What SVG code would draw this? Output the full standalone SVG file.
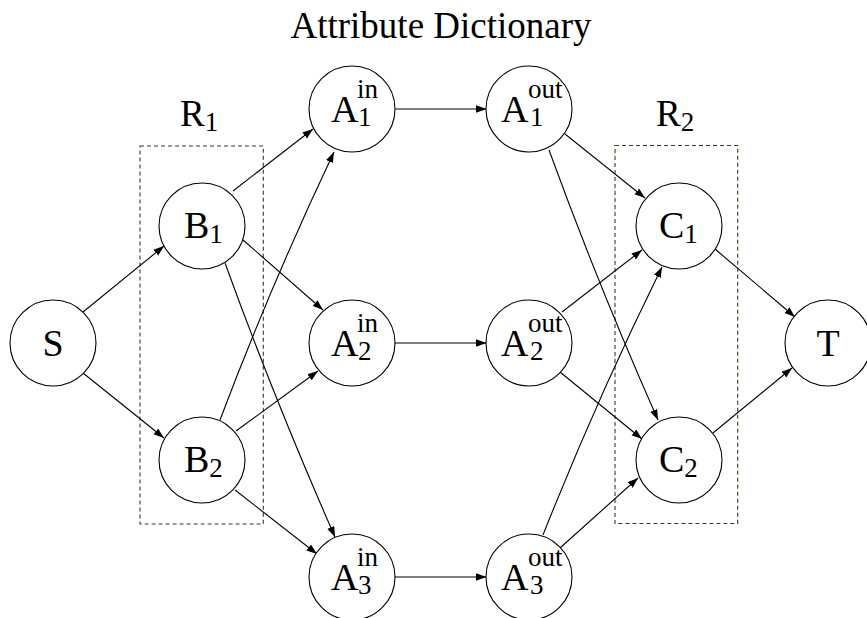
<svg xmlns="http://www.w3.org/2000/svg" width="867" height="618" viewBox="0 0 867 618" font-family="'Liberation Serif', 'Times New Roman', Times, 'DejaVu Serif', serif">
<style>
  .node circle { fill: #fff; stroke: #000; stroke-width: 1.1; }
  text { font-family: "Liberation Serif", "Times New Roman", Times, "DejaVu Serif", serif; fill: #000; }
  .m { font-size: 38px; }
  .s { font-size: 27px; }
  .edges path { fill: none; stroke: #000; stroke-width: 1.1; marker-end: url(#arr); }
  .cluster rect { fill: none; stroke: #3a3a12; stroke-width: 1.1; stroke-dasharray: 4 3; }
</style>
<defs>
  <marker id="arr" markerWidth="11" markerHeight="8" refX="10.5" refY="3.75" orient="auto" markerUnits="userSpaceOnUse">
    <path d="M0,0 L10.5,3.75 L0,7.5 z" fill="#000"/>
  </marker>
</defs>
<rect width="867" height="618" fill="#fff"/>

<text id="title" x="441" y="38" text-anchor="middle" style="font-size:37px">Attribute Dictionary</text>

<g id="R1" class="cluster">
  <rect x="140" y="146" width="123.3" height="378"/>
  <text x="180" y="126" style="font-size:37px">R<tspan class="s" dy="5">1</tspan></text>
</g>
<g id="R2" class="cluster">
  <rect x="615" y="145.5" width="122.7" height="378"/>
  <text x="656" y="126" style="font-size:37px">R<tspan class="s" dy="5">2</tspan></text>
</g>

<g class="edges" id="edges">
  <path d="M83,312 L164,246"/>
  <path d="M83,373 L164,438"/>
  <path d="M233,191 L313,129"/>
  <path d="M243,240 L323,310"/>
  <path d="M225,263 Q275.4,401.9 335,537"/>
  <path d="M220,420 Q271.5,283.6 334,152"/>
  <path d="M236,431 L318,371"/>
  <path d="M235,490 L317,554"/>
  <path d="M394,109 L486.5,109"/>
  <path d="M394.5,343 L486.5,343"/>
  <path d="M394,577 L486.5,577"/>
  <path d="M565,134 L645,198"/>
  <path d="M549,150 Q598.9,286.9 658,420"/>
  <path d="M562,312 L642,250"/>
  <path d="M560,372 L642,439"/>
  <path d="M543,535 Q597,398.6 662,267"/>
  <path d="M560,548 L638,478"/>
  <path d="M715,249 L795,317"/>
  <path d="M713,433 L792,368"/>
</g>

<g id="S" class="node">
  <circle cx="53" cy="343" r="43"/>
  <text class="m" x="53" y="356" text-anchor="middle">S</text>
</g>
<g id="B1" class="node">
  <circle cx="202" cy="226" r="43"/>
  <text class="m" x="184" y="238">B<tspan class="s" dy="5">1</tspan></text>
</g>
<g id="B2" class="node">
  <circle cx="202" cy="460" r="43"/>
  <text class="m" x="184" y="472">B<tspan class="s" dy="5">2</tspan></text>
</g>
<g id="A1in" class="node">
  <circle cx="352" cy="109" r="43"/>
  <text class="m" x="331" y="122">A</text>
  <text class="s" x="357" y="98">in</text>
  <text class="s" x="358" y="126">1</text>
</g>
<g id="A2in" class="node">
  <circle cx="352" cy="343" r="43"/>
  <text class="m" x="331" y="356">A</text>
  <text class="s" x="357" y="332">in</text>
  <text class="s" x="358" y="360">2</text>
</g>
<g id="A3in" class="node">
  <circle cx="352" cy="577" r="43"/>
  <text class="m" x="331" y="590">A</text>
  <text class="s" x="357" y="566">in</text>
  <text class="s" x="358" y="594">3</text>
</g>
<g id="A1out" class="node">
  <circle cx="529" cy="109" r="43"/>
  <text class="m" x="501" y="122">A</text>
  <text class="s" x="528" y="98">out</text>
  <text class="s" x="530" y="126">1</text>
</g>
<g id="A2out" class="node">
  <circle cx="529" cy="343" r="43"/>
  <text class="m" x="501" y="356">A</text>
  <text class="s" x="528" y="332">out</text>
  <text class="s" x="530" y="360">2</text>
</g>
<g id="A3out" class="node">
  <circle cx="529" cy="577" r="43"/>
  <text class="m" x="501" y="590">A</text>
  <text class="s" x="528" y="566">out</text>
  <text class="s" x="530" y="594">3</text>
</g>
<g id="C1" class="node">
  <circle cx="679" cy="226" r="43"/>
  <text class="m" x="659" y="238">C<tspan class="s" dy="5">1</tspan></text>
</g>
<g id="C2" class="node">
  <circle cx="679" cy="460" r="43"/>
  <text class="m" x="659" y="472">C<tspan class="s" dy="5">2</tspan></text>
</g>
<g id="T" class="node">
  <circle cx="828" cy="343" r="43"/>
  <text class="m" x="828" y="356" text-anchor="middle">T</text>
</g>
</svg>
